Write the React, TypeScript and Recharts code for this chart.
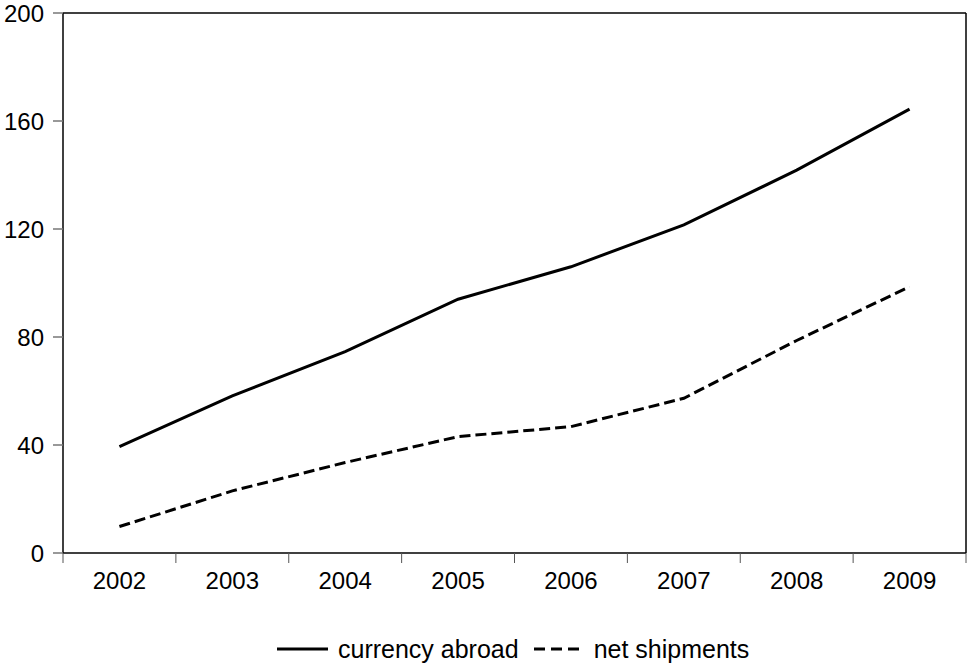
import React from 'react';
import { LineChart, Line, XAxis, YAxis, ReferenceLine, Legend } from 'recharts';

const categories = ['2002', '2003', '2004', '2005', '2006', '2007', '2008', '2009'];
const currencyAbroad = [39.4, 58.2, 74.6, 94.0, 106.0, 121.5, 141.8, 164.4];
const netShipments = [9.8, 23.0, 33.5, 43.1, 46.8, 57.3, 78.7, 98.6];
const yTicks = [0, 40, 80, 120, 160, 200];

const FONT = '"Liberation Sans", Arial, sans-serif';

const data = categories.map((c, i) => ({
  pos: i + 0.5,
  year: c,
  currency: currencyAbroad[i],
  net: netShipments[i],
}));

const xTicks: number[] = [];
for (let i = 0; i <= categories.length; i++) {
  xTicks.push(i);
  if (i < categories.length) xTicks.push(i + 0.5);
}

const XTick = (props: any) => {
  const { x, y, payload } = props;
  const v = payload.value as number;
  if (Number.isInteger(v)) {
    return <line x1={x} x2={x} y1={y} y2={y + 10} stroke="#555" strokeWidth={1} />;
  }
  return (
    <text x={x} y={y + 36} textAnchor="middle" fontSize={24} fontFamily={FONT} fill="#000">
      {categories[Math.floor(v)]}
    </text>
  );
};

const LegendContent = () => (
  <div
    style={{
      height: 30,
      display: 'flex',
      alignItems: 'center',
      paddingLeft: 277,
      fontFamily: FONT,
      fontSize: 25,
      color: '#000',
      whiteSpace: 'nowrap',
    }}
  >
    <svg width={51} height={10} style={{ display: 'block' }}>
      <line x1={0} x2={51} y1={5} y2={5} stroke="#000" strokeWidth={3} />
    </svg>
    <span style={{ marginLeft: 10 }}>currency abroad</span>
    <svg width={45} height={10} style={{ display: 'block', marginLeft: 15 }}>
      <line x1={0} x2={45} y1={5} y2={5} stroke="#000" strokeWidth={3} strokeDasharray="11 6" />
    </svg>
    <span style={{ marginLeft: 15 }}>net shipments</span>
  </div>
);

export default function App() {
  return (
    <div style={{ position: 'absolute', left: 0, top: 0, width: 968, height: 664, background: '#fff' }}>
      <LineChart width={968} height={664} data={data} margin={{ top: 13, right: 2, left: 0, bottom: 0 }}>
        <XAxis
          dataKey="pos"
          type="number"
          domain={[0, categories.length]}
          ticks={xTicks}
          interval={0}
          tick={<XTick />}
          tickLine={false}
          tickSize={0}
          tickMargin={0}
          height={81}
          axisLine={{ stroke: '#000', strokeWidth: 1.5 }}
        />
        <YAxis
          type="number"
          domain={[0, 200]}
          ticks={yTicks}
          interval={0}
          width={63}
          tickSize={10}
          tickMargin={9}
          tickLine={{ stroke: '#777', strokeWidth: 1.5 }}
          axisLine={{ stroke: '#000', strokeWidth: 1.5 }}
          tick={{ fontSize: 24, fontFamily: FONT, fill: '#000' }}
        />
        <ReferenceLine y={200} stroke="#000" strokeWidth={1.5} />
        <ReferenceLine x={categories.length} stroke="#000" strokeWidth={1.5} />
        <Line
          type="linear"
          dataKey="currency"
          name="currency abroad"
          stroke="#000"
          strokeWidth={3}
          dot={false}
          isAnimationActive={false}
        />
        <Line
          type="linear"
          dataKey="net"
          name="net shipments"
          stroke="#000"
          strokeWidth={3}
          strokeDasharray="11 5"
          dot={false}
          isAnimationActive={false}
        />
        <Legend verticalAlign="bottom" content={<LegendContent />} wrapperStyle={{ left: 0, width: 968 }} />
      </LineChart>
    </div>
  );
}
